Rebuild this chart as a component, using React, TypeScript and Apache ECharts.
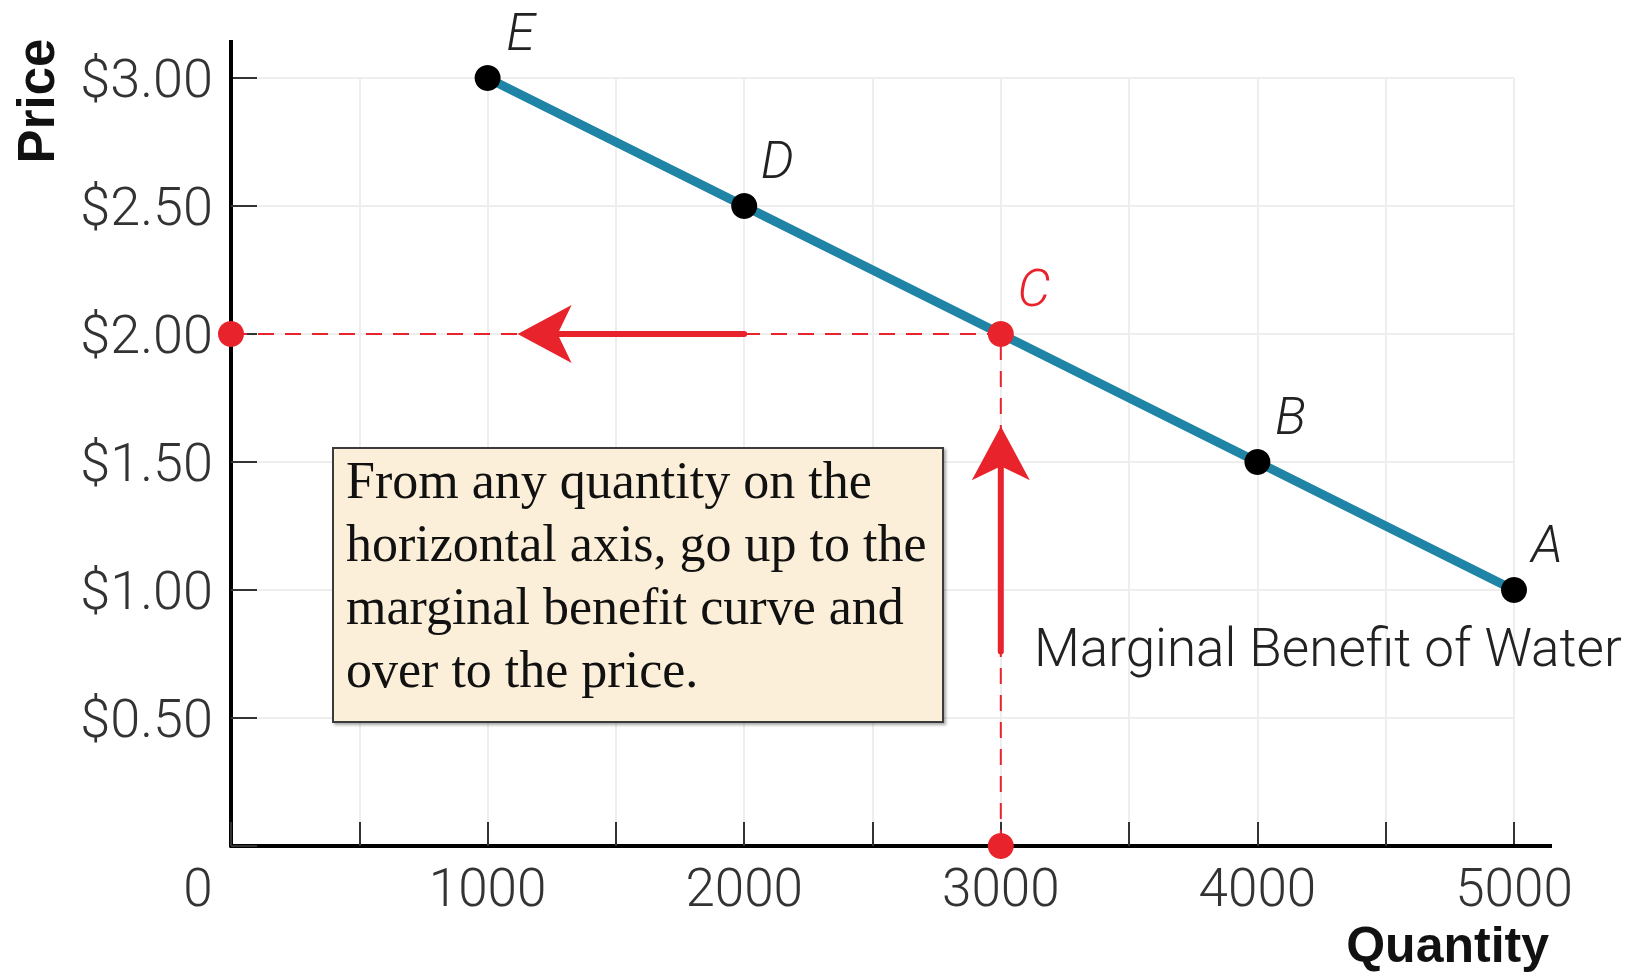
import React, { useEffect, useRef } from 'react';
import * as echarts from 'echarts';

// ---- data ----
const pointNames = ['E', 'D', 'C', 'B', 'A'];
const quantities = [1000, 2000, 3000, 4000, 5000];
const prices = [3.0, 2.5, 2.0, 1.5, 1.0];
const highlighted = 'C';
const guideQuantity = 3000;
const guidePrice = 2.0;
// arrows: [fromX, fromY, toX(tip), toY(tip)]
const arrowHorizontal = [2000, 2.0, 1117, 2.0];
const arrowVertical = [3000, 0.76, 3000, 1.64];
const boxLines = [
  'From any quantity on the',
  'horizontal axis, go up to the',
  'marginal benefit curve and',
  'over to the price.',
];
const curveName = 'Marginal Benefit of Water';
const xAxisName = 'Quantity';
const yAxisName = 'Price';

const TEAL = '#1f84a6';
const RED = '#e8232b';
const TICK_FONT = 'Roboto';

export default function App() {
  const ref = useRef<HTMLDivElement>(null);

  useEffect(() => {
    if (!ref.current) return;
    const chart = echarts.init(ref.current, null, { renderer: 'svg' });

    const curveData = quantities.map((q, i) => {
      const isHi = pointNames[i] === highlighted;
      return {
        name: pointNames[i],
        value: [q, prices[i]],
        itemStyle: { color: isHi ? RED : '#000' },
        label: { color: isHi ? RED : '#222' },
      };
    });

    const arrowRender = (params: any, api: any) => {
      const p1 = api.coord([api.value(0), api.value(1)]);
      const p2 = api.coord([api.value(2), api.value(3)]);
      const dx = p2[0] - p1[0];
      const dy = p2[1] - p1[1];
      const len = Math.sqrt(dx * dx + dy * dy) || 1;
      const ux = dx / len;
      const uy = dy / len;
      const nx = -uy;
      const ny = ux;
      const L = 54;
      const W = 29;
      const N = 40;
      const back = [p2[0] - ux * L, p2[1] - uy * L];
      const notch = [p2[0] - ux * N, p2[1] - uy * N];
      return {
        type: 'group',
        children: [
          {
            type: 'line',
            shape: { x1: p1[0], y1: p1[1], x2: notch[0], y2: notch[1] },
            style: { stroke: RED, lineWidth: 6, lineCap: 'round' },
          },
          {
            type: 'polygon',
            shape: {
              points: [
                [p2[0], p2[1]],
                [back[0] + nx * W, back[1] + ny * W],
                [notch[0], notch[1]],
                [back[0] - nx * W, back[1] - ny * W],
              ],
            },
            style: { fill: RED },
          },
        ],
      };
    };

    const option: any = {
      animation: false,
      backgroundColor: '#fff',
      grid: { left: 231, right: 119, top: 78, bottom: 131, containLabel: false },
      xAxis: {
        type: 'value',
        min: 0,
        max: 5000,
        interval: 500,
        axisLine: { show: true, lineStyle: { color: '#000', width: 4 } },
        axisTick: { show: true, inside: true, length: 24, lineStyle: { color: '#333', width: 2 } },
        splitLine: { show: true, lineStyle: { color: '#eeeeee', width: 2 } },
        axisLabel: {
          margin: 15,
          fontFamily: TICK_FONT,
          fontWeight: 300,
          fontSize: 53,
          color: '#333',
          formatter: (v: number) => (v === 0 ? '{z|0}' : v % 1000 === 0 ? String(v) : ''),
          rich: {
            z: { fontFamily: TICK_FONT, fontWeight: 300, fontSize: 53, color: '#333', padding: [0, 66, 0, 0] },
          },
        },
      },
      yAxis: {
        type: 'value',
        min: 0,
        max: 3,
        interval: 0.5,
        axisLine: { show: true, lineStyle: { color: '#000', width: 4 } },
        axisTick: { show: true, inside: true, length: 26, lineStyle: { color: '#333', width: 2 } },
        splitLine: { show: true, lineStyle: { color: '#eeeeee', width: 2 } },
        axisLabel: {
          margin: 18,
          fontFamily: TICK_FONT,
          fontWeight: 300,
          fontSize: 54,
          color: '#333',
          formatter: (v: number) => (v === 0 ? '' : '$' + v.toFixed(2)),
        },
      },
      series: [
        {
          type: 'line',
          data: [[0, guidePrice], [guideQuantity, guidePrice]],
          symbol: 'none',
          lineStyle: { color: RED, width: 2, type: [16, 11] },
          z: 2,
          silent: true,
        },
        {
          type: 'line',
          data: [[guideQuantity, 0], [guideQuantity, guidePrice]],
          symbol: 'none',
          lineStyle: { color: RED, width: 2, type: [16, 11] },
          z: 2,
          silent: true,
        },
        {
          type: 'custom',
          renderItem: arrowRender,
          data: [arrowHorizontal, arrowVertical],
          encode: { x: [0, 2], y: [1, 3] },
          z: 3,
          silent: true,
        },
        {
          type: 'line',
          data: curveData,
          symbol: 'circle',
          symbolSize: 26,
          lineStyle: { color: TEAL, width: 9 },
          label: {
            show: true,
            formatter: '{b}',
            position: 'inside',
            offset: [33, -46],
            fontFamily: TICK_FONT,
            fontWeight: 300,
            fontStyle: 'italic',
            fontSize: 52,
          },
          z: 4,
          silent: true,
        },
        {
          type: 'scatter',
          data: [[0, guidePrice], [guideQuantity, 0]],
          symbol: 'circle',
          symbolSize: 26,
          itemStyle: { color: RED, opacity: 1 },
          clip: false,
          z: 5,
          silent: true,
        },
      ],
    };

    chart.setOption(option);

    const o = chart.convertToPixel({ gridIndex: 0 }, [0, 0]) as number[];
    const xe = chart.convertToPixel({ gridIndex: 0 }, [5000, 0]) as number[];
    const ye = chart.convertToPixel({ gridIndex: 0 }, [0, 3]) as number[];

    chart.setOption({
      graphic: [
        {
          type: 'line',
          shape: { x1: xe[0] - 2, y1: o[1], x2: xe[0] + 38, y2: o[1] },
          style: { stroke: '#000', lineWidth: 4 },
          z: 10,
        },
        {
          type: 'line',
          shape: { x1: o[0], y1: ye[1] + 2, x2: o[0], y2: ye[1] - 38 },
          style: { stroke: '#000', lineWidth: 4 },
          z: 10,
        },
        {
          type: 'text',
          x: 36,
          y: 101,
          rotation: Math.PI / 2,
          style: {
            text: yAxisName,
            fontFamily: 'Liberation Sans',
            fontWeight: 'bold',
            fontSize: 51,
            fill: '#111',
            align: 'center',
            verticalAlign: 'middle',
          },
        },
        {
          type: 'text',
          x: 1549,
          y: 945,
          style: {
            text: xAxisName,
            fontFamily: 'Liberation Sans',
            fontWeight: 'bold',
            fontSize: 50,
            fill: '#111',
            align: 'right',
            verticalAlign: 'middle',
          },
        },
        {
          type: 'text',
          x: 1034,
          y: 648,
          style: {
            text: curveName,
            fontFamily: TICK_FONT,
            fontWeight: 300,
            fontSize: 53,
            fill: '#222',
            align: 'left',
            verticalAlign: 'middle',
          },
          z: 10,
        },
        {
          type: 'group',
          z: 20,
          children: [
            {
              type: 'rect',
              shape: { x: 333, y: 448, width: 610, height: 274 },
              style: {
                fill: '#fcefd9',
                stroke: '#3a3a3a',
                lineWidth: 2,
                shadowBlur: 3,
                shadowOffsetX: 2,
                shadowOffsetY: 2,
                shadowColor: 'rgba(0,0,0,0.35)',
              },
            },
            {
              type: 'text',
              x: 346,
              y: 449,
              style: {
                text: boxLines.join('\n'),
                fontFamily: 'Liberation Serif',
                fontSize: 52,
                lineHeight: 63,
                fill: '#111',
                align: 'left',
                verticalAlign: 'top',
              },
            },
          ],
        },
      ],
    });

    return () => chart.dispose();
  }, []);

  return (
    <div
      ref={ref}
      style={{ position: 'fixed', left: 0, top: 0, width: 1633, height: 977, background: '#fff' }}
    />
  );
}
